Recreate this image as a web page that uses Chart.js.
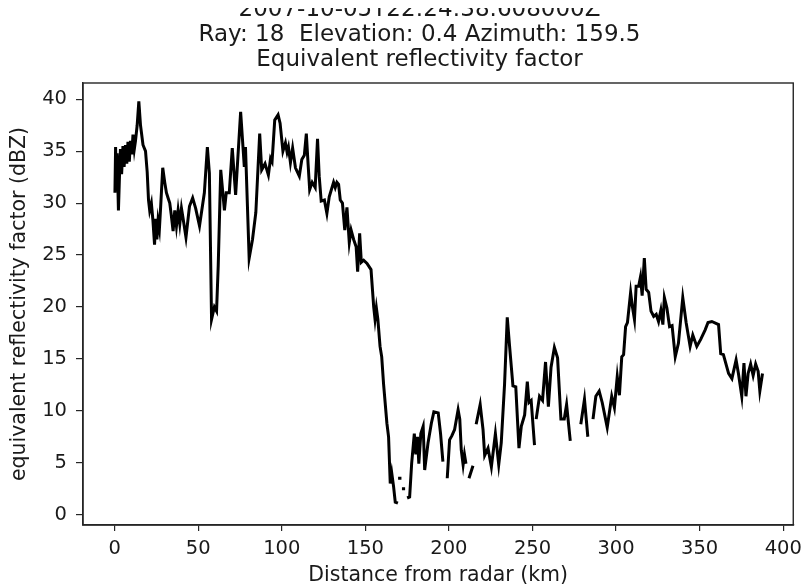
<!DOCTYPE html>
<html>
<head>
<meta charset="utf-8">
<script src="https://cdn.jsdelivr.net/npm/chart.js@4.4.1/dist/chart.umd.min.js"></script>
<style>
  html,body{margin:0;padding:0;background:#fff;}
  #wrap{position:relative;width:808px;height:586px;overflow:hidden;}
  #cover{position:absolute;left:0;top:0;width:808px;height:8px;background:#fff;}
</style>
</head>
<body>
<div id="wrap">
<canvas id="c" width="808" height="586"></canvas>
<div id="cover"></div>
</div>
<script>
// ---- data (null = gap in the ray) ----
const distanceKm = [
0.2,0.6,1.0,1.5,2.3,3.0,3.5,4.2,5.0,5.7,6.5,7.3,8.0,8.8,9.5,10.3,11.0,11.8,12.5,13.5,14.5,15.5,17.0,18.5,19.5,20.3,21.0,22.0,22.9,23.9,24.6,25.3,26.0,26.8,27.5,28.8,30.0,31.0,32.0,33.0,33.8,35.0,36.0,37.0,38.0,39.0,40.0,41.0,42.7,44.8,46.7,48.5,50.8,53.7,55.5,56.7,58.0,59.7,61.0,62.0,63.5,65.7,66.8,68.6,70.4,72.4,75.4,77.6,78.3,80.5,82.5,84.5,86.8,88.0,90.0,92.0,93.3,94.2,95.8,97.8,99.0,100.7,102.2,103.2,104.0,105.2,106.5,108.2,110.5,112.0,113.5,114.7,115.7,116.7,118.2,120.0,121.4,122.4,123.6,125.5,127.0,128.4,131.0,132.0,133.0,134.0,135.0,136.3,137.7,139.0,140.4,141.5,143.0,144.5,145.4,146.6,147.6,149.0,151.0,153.4,155.0,155.8,156.6,157.5,158.8,159.8,160.9,162.9,163.9,164.9,165.8,166.9,167.9,169.5,
169.6,
169.6,171.6,
171.8,
171.9,173.8,
174.2,
175.0,176.5,177.7,179.3,180.2,181.2,182.0,183.2,184.6,185.5,187.5,189.5,191.0,193.6,195.0,196.4,
197.5,
199.0,200.4,201.8,203.4,205.5,206.5,207.4,208.5,209.3,210.2,
211.0,
212.0,214.4,
215.3,
216.3,218.7,220.4,221.4,223.4,225.4,227.8,229.8,231.3,233.3,234.9,236.3,238.3,240.0,241.9,243.3,245.3,246.9,247.9,249.2,251.2,
251.7,
252.2,254.2,256.0,257.8,259.5,261.1,263.1,265.0,267.0,269.0,270.4,272.6,
275.0,
278.9,281.1,283.1,
284.5,
286.2,287.9,289.9,291.7,294.7,297.4,299.0,300.7,302.0,303.4,304.5,305.7,306.8,308.7,309.7,311.0,312.0,313.5,314.6,315.6,316.9,318.0,319.5,320.9,322.5,324.0,325.4,326.8,328.0,328.9,330.4,332.0,333.5,335.4,337.3,339.9,341.9,344.3,345.9,348.3,350.7,353.3,355.0,357.3,361.3,362.6,364.2,367.3,369.3,371.8,373.2,375.2,376.5,377.7,379.0,380.5,382.0,383.5,385.0,386.0,387.6
];
const reflectivityDbz = [
31.0,35.4,31.5,34.8,29.3,33.0,35.2,32.8,35.5,33.5,35.6,33.8,35.9,34.0,36.0,34.7,36.6,35.2,36.0,37.5,39.8,37.5,35.6,35.0,33.0,30.3,29.3,30.0,28.4,26.0,28.5,26.5,28.3,27.5,29.5,33.4,32.0,31.0,30.5,30.0,29.0,27.3,29.3,27.8,29.3,28.0,29.5,28.5,26.7,29.7,30.5,29.5,27.8,31.0,35.4,32.9,18.8,20.0,19.6,24.0,33.2,29.3,31.0,31.0,35.3,30.8,38.8,33.5,35.4,24.7,26.5,29.1,36.7,33.2,33.8,32.7,34.3,34.0,38.0,38.5,37.7,35.0,35.8,34.9,35.4,33.9,35.3,33.4,32.6,34.2,34.6,36.7,33.9,31.3,32.0,31.5,36.2,32.6,30.2,30.3,29.0,30.6,32.0,31.5,32.0,31.8,30.3,30.0,27.4,29.6,26.2,27.4,26.5,25.8,23.4,27.1,24.3,24.5,24.2,23.6,20.0,18.8,19.9,18.8,16.2,15.2,12.6,8.8,7.5,3.0,4.0,2.7,1.2,1.1,
null,
3.5,3.5,
null,
2.5,2.5,
null,
1.6,1.7,4.9,7.8,5.8,7.5,4.9,7.8,8.5,4.3,6.9,8.8,9.9,9.8,7.8,5.1,
null,
3.5,7.2,7.6,8.2,10.1,9.2,6.2,4.8,5.8,4.9,
null,
3.5,4.7,
null,
8.7,10.6,8.2,5.7,6.4,4.6,7.8,4.8,6.9,12.6,19.0,16.2,12.4,12.3,6.4,8.5,9.6,12.8,10.8,11.0,6.7,
null,
9.2,11.4,11.0,14.7,10.4,14.2,16.1,15.1,9.2,9.2,10.6,7.1,
null,
8.7,11.1,7.5,
null,
9.2,11.4,11.9,10.8,8.4,11.4,10.3,13.3,11.5,15.2,15.4,18.1,18.5,21.4,20.1,18.8,22.0,22.0,22.9,21.1,24.7,21.7,21.4,19.6,19.1,19.3,18.6,19.7,18.3,20.9,19.9,18.1,18.2,15.2,16.5,20.9,18.5,16.2,17.3,16.2,16.9,17.8,18.5,18.6,18.3,15.5,15.4,13.6,13.1,14.9,13.6,11.4,14.6,11.4,13.6,14.5,13.4,14.5,13.8,11.9,13.6
];
const xTickValues = [0,50,100,150,200,250,300,350,400];
const yTickValues = [0,5,10,15,20,25,30,35,40];
const titleLines = [
  "2007-10-05T22:24:38.608000Z",
  "Ray: 18  Elevation: 0.4 Azimuth: 159.5",
  "Equivalent reflectivity factor"
];
const xLabel = "Distance from radar (km)";
const yLabel = "equivalent reflectivity factor (dBZ)";

const points = distanceKm.map((d,i)=>({x:d, y:reflectivityDbz[i]}));

const FONT = "'DejaVu Sans', sans-serif";
const TXT = '#1a1a1a';

const framePlugin = {
  id:'frame',
  afterDraw(chart){
    const a = chart.chartArea, ctx = chart.ctx;
    ctx.save();
    ctx.strokeStyle = '#262626';
    ctx.lineWidth = 1.4;
    ctx.strokeRect(a.left, a.top, a.right-a.left, a.bottom-a.top);
    ctx.restore();
  }
};

new Chart(document.getElementById('c'), {
  type:'line',
  data:{datasets:[{
    data: points,
    borderColor:'#000',
    borderWidth:3,
    pointRadius:0,
    tension:0,
    spanGaps:false,
    fill:false
  }]},
  options:{
    responsive:false,
    animation:false,
    devicePixelRatio:1,
    layout:{padding:{left:42,right:11,top:0,bottom:0}},
    plugins:{
      legend:{display:false},
      tooltip:{enabled:false},
      title:{
        display:true,
        text:titleLines,
        color:TXT,
        font:{family:FONT,size:23,weight:'normal',lineHeight:25/23},
        padding:{top:-2,bottom:10}
      }
    },
    scales:{
      x:{
        type:'linear',
        min:-18.9, max:406,
        afterBuildTicks(s){ s.ticks = xTickValues.map(v=>({value:v})); },
        afterFit(s){ s.height = 61; },
        grid:{drawOnChartArea:false, drawTicks:true, tickLength:6, color:'#262626', lineWidth:1.2},
        border:{display:true, color:'#262626', width:1.4},
        ticks:{color:TXT, font:{family:FONT,size:19.5}, padding:6, maxRotation:0, autoSkip:false},
        title:{display:true, text:xLabel, color:TXT, font:{family:FONT,size:20.5,lineHeight:1.0}, padding:{top:2,bottom:0}}
      },
      y:{
        type:'linear',
        min:-1.0, max:41.57,
        afterBuildTicks(s){ s.ticks = yTickValues.map(v=>({value:v})); },
        afterFit(s){ s.width = 41; },
        grid:{drawOnChartArea:false, drawTicks:true, tickLength:7, color:'#262626', lineWidth:1.2},
        border:{display:true, color:'#262626', width:1.4},
        ticks:{color:TXT, font:{family:FONT,size:19.5}, padding:9, autoSkip:false},
        title:{display:true, text:yLabel, color:TXT, font:{family:FONT,size:20.5,lineHeight:1.0}, padding:{top:-32.5,bottom:0}}
      }
    }
  },
  plugins:[framePlugin]
});
</script>
</body>
</html>
